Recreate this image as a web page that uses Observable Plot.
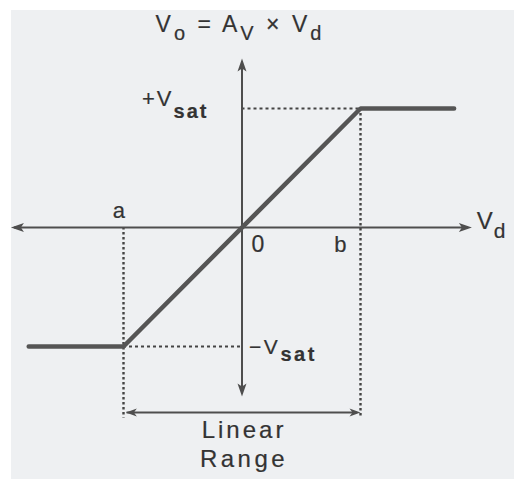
<!DOCTYPE html>
<html><head><meta charset="utf-8">
<script src="https://cdn.jsdelivr.net/npm/d3@7"></script>
<script src="https://cdn.jsdelivr.net/npm/@observablehq/plot@0.6"></script>
<style>body{margin:0;background:#fff}</style>
</head><body><div id="chart"></div>
<script>
// Transfer characteristic of an op-amp (Vd normalised so a=-1, b=+1; Vo so ±Vsat = ±1)
const transferVd = [-1.8, -1, 1, 1.79];
const transferVo = [-1, -1, 1, 1];
const saturationLevels = [-1, 1];   // -Vsat, +Vsat
const rangeEdges = [-1, 1];         // a, b
const axisVd = [-1.95, 1.94];       // extent of Vd axis
const axisVo = [-1.42, 1.42];       // extent of Vo axis
const rangeArrowVo = -1.555;        // level of the "Linear Range" arrow
const dottedBottom = -1.6;
const labels = {
  title: "V_{o} = A_{V} × V_{d}",
  pos: "+V_{sat}",
  neg: "−V_{sat}",
  a: "a", zero: "0", b: "b",
  vd: "V_{d}",
  linear: "Linear", range: "Range"
};

const transfer = transferVd.map((vd, i) => ({vd, vo: transferVo[i]}));

const ink = "#4e4e4e";
const textInk = "#333";
const font = "Liberation Sans, Arial, sans-serif";

function head(dir, L, W) {
  const rot = {up: 0, right: 90, down: 180, left: 270}[dir] * Math.PI / 180;
  const c = Math.cos(rot), s = Math.sin(rot);
  const pts = [[0, 0], [-W, L], [0, L - 3], [W, L]].map(([x, y]) => [x * c - y * s, x * s + y * c]);
  return {draw(ctx) { ctx.moveTo(...pts[0]); for (let i = 1; i < pts.length; i++) ctx.lineTo(...pts[i]); ctx.closePath(); }};
}

const txt = (s, x, y, opts) => Plot.text([s], {x, y, text: d => d, lineAnchor: "bottom", fill: textInk, stroke: textInk, strokeWidth: 0.2, fontFamily: font, ...opts});

const plot = Plot.plot({
  width: 514,
  height: 479,
  margin: 0,
  x: {domain: [-1, 1], range: [123, 360], axis: null},
  y: {domain: [-1, 1], range: [346, 108], axis: null},
  style: {background: "white linear-gradient(#eef0f2,#eef0f2) 11px 10px / 100% 100% no-repeat", fontFamily: font},
  marks: [
    // dotted guides
    Plot.ruleY(saturationLevels, {x1: d => d < 0 ? rangeEdges[0] : 0, x2: d => d < 0 ? 0 : rangeEdges[1], stroke: "#444", strokeWidth: 2, strokeDasharray: "3,3"}),
    Plot.ruleX(rangeEdges, {y1: d => d < 0 ? 0 : saturationLevels[1], y2: dottedBottom, stroke: "#444", strokeWidth: 2.4, strokeDasharray: "2.5,2.5"}),
    // axes
    Plot.ruleY([0], {x1: axisVd[0] + 0.03, x2: axisVd[1] - 0.03, stroke: ink, strokeWidth: 2}),
    Plot.ruleX([0], {y1: axisVo[0] + 0.03, y2: axisVo[1] - 0.03, stroke: ink, strokeWidth: 2}),
    Plot.dot([{x: axisVd[1], y: 0}], {x: "x", y: "y", symbol: head("right", 13, 4.5), fill: ink, stroke: "none"}),
    Plot.dot([{x: axisVd[0], y: 0}], {x: "x", y: "y", symbol: head("left", 13, 4.5), fill: ink, stroke: "none"}),
    Plot.dot([{x: 0, y: axisVo[1]}], {x: "x", y: "y", symbol: head("up", 13, 4.5), fill: ink, stroke: "none"}),
    Plot.dot([{x: 0, y: axisVo[0]}], {x: "x", y: "y", symbol: head("down", 13, 4.5), fill: ink, stroke: "none"}),
    // linear range arrow
    Plot.ruleY([rangeArrowVo], {x1: rangeEdges[0] + 0.03, x2: rangeEdges[1] - 0.03, stroke: ink, strokeWidth: 2}),
    Plot.dot([{x: rangeEdges[0] + 0.02, y: rangeArrowVo}], {x: "x", y: "y", symbol: head("left", 11, 4), fill: ink, stroke: "none"}),
    Plot.dot([{x: rangeEdges[1], y: rangeArrowVo}], {x: "x", y: "y", symbol: head("right", 11, 4), fill: ink, stroke: "none"}),
    // characteristic
    Plot.line(transfer, {x: "vd", y: "vo", stroke: "#555", strokeWidth: 4.5, strokeLinejoin: "miter"}),
    // labels
    txt(labels.title, -0.017, 1.64, {fontSize: 23, textAnchor: "middle"}),
    txt(labels.pos, -0.844, 1.017, {fontSize: 22, textAnchor: "start"}),
    txt(labels.neg, 0.06, -1.06, {fontSize: 21, textAnchor: "start"}),
    txt(labels.a, -1.04, 0.076, {fontSize: 22, textAnchor: "middle"}),
    txt(labels.zero, 0.135, -0.21, {fontSize: 23, textAnchor: "middle"}),
    txt(labels.b, 0.83, -0.21, {fontSize: 22, textAnchor: "middle"}),
    txt(labels.vd, 1.98, -0.01, {fontSize: 24, textAnchor: "start"}),
    txt(labels.linear, 0.017, -1.765, {fontSize: 24, textAnchor: "middle"}),
    txt(labels.range, 0.017, -2.01, {fontSize: 24, textAnchor: "middle"})
  ]
});

const textStyle = {
  [labels.title]: {subSize: 20, shift: 8, spacing: 3},
  [labels.pos]: {subSize: 20, shift: 12, spacing: 2, subWeight: "bold"},
  [labels.neg]: {subSize: 20, shift: 7, spacing: 2.5, subWeight: "bold"},
  [labels.vd]: {subSize: 21, shift: 9, spacing: 1},
  [labels.linear]: {spacing: 3},
  [labels.range]: {spacing: 3.5}
};
const NS = "http://www.w3.org/2000/svg";
plot.querySelectorAll("text").forEach(t => {
  const s = t.textContent;
  const st = textStyle[s];
  if (!st) return;
  if (st.spacing) t.setAttribute("letter-spacing", st.spacing);
  if (!s.includes("_{")) return;
  const parts = s.split(/(_\{[^}]*\})/).filter(p => p);
  t.textContent = "";
  let lowered = false;
  for (const p of parts) {
    const ts = document.createElementNS(NS, "tspan");
    if (p.startsWith("_{")) {
      ts.textContent = p.slice(2, -1);
      ts.setAttribute("font-size", st.subSize);
      ts.setAttribute("dy", st.shift);
      if (st.subWeight) ts.setAttribute("font-weight", st.subWeight);
      lowered = true;
    } else {
      ts.textContent = p;
      if (lowered) { ts.setAttribute("dy", -st.shift); lowered = false; }
    }
    t.appendChild(ts);
  }
});
document.getElementById("chart").append(plot);
</script>
</body></html>
